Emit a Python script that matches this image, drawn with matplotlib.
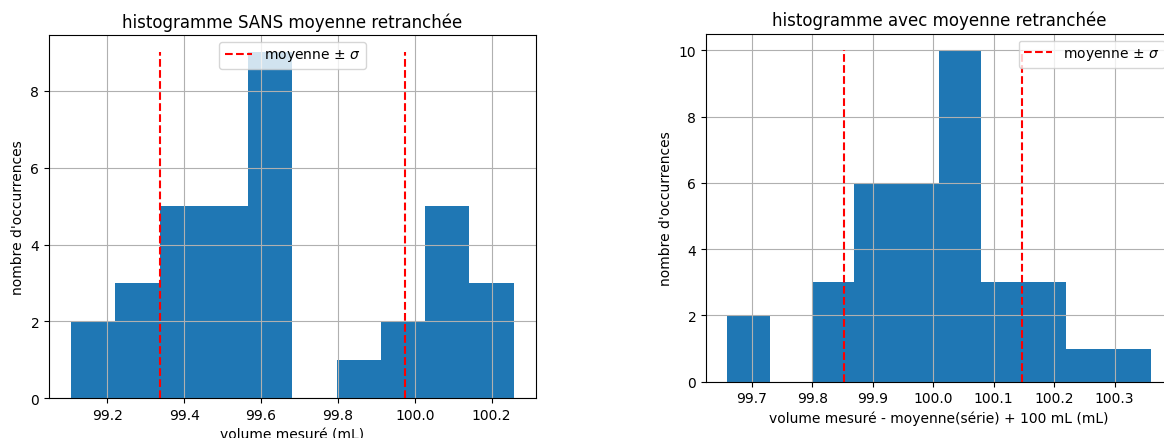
import numpy as np
import matplotlib
matplotlib.use("Agg")
import matplotlib.pyplot as plt

# Left histogram (raw values, without mean subtracted)
left_range = (99.106, 100.257)
left_counts = [2, 3, 5, 5, 9, 0, 1, 2, 5, 3]
left_mean = 99.656
left_sigma = 0.319

# Right histogram (mean subtracted, + 100 mL)
right_range = (99.659, 100.360)
right_counts = [2, 0, 3, 6, 6, 10, 3, 3, 1, 1]
right_mean = 99.9995
right_sigma = 0.147

legend_label = r"moyenne $\pm$ $\sigma$"

fig = plt.figure(figsize=(11.64, 4.39), dpi=100)
axL = fig.add_axes([49 / 1164, (439 - 399.3) / 439, 486.7 / 1164, 363.3 / 439])
axR = fig.add_axes([706 / 1164, (439 - 382.7) / 439, 466 / 1164, 348 / 439])


def draw(ax, rng, counts, mean, sigma, title, xlabel, loc):
    edges = np.linspace(rng[0], rng[1], len(counts) + 1)
    centers = (edges[:-1] + edges[1:]) / 2
    ax.hist(centers, bins=edges, weights=counts, color="#1f77b4")
    ax.vlines([mean - sigma, mean + sigma], 0, max(counts), colors="r",
              linestyles="--", label=legend_label)
    ax.grid(True)
    ax.set_title(title, fontsize=12)
    ax.set_xlabel(xlabel)
    ax.set_ylabel("nombre d'occurrences")
    ax.legend(loc=loc)


draw(axL, left_range, left_counts, left_mean, left_sigma,
     "histogramme SANS moyenne retranchée", "volume mesuré (mL)", "upper center")
draw(axR, right_range, right_counts, right_mean, right_sigma,
     "histogramme avec moyenne retranchée",
     "volume mesuré - moyenne(série) + 100 mL (mL)", "upper right")

fig.savefig("out.png", dpi=100)
